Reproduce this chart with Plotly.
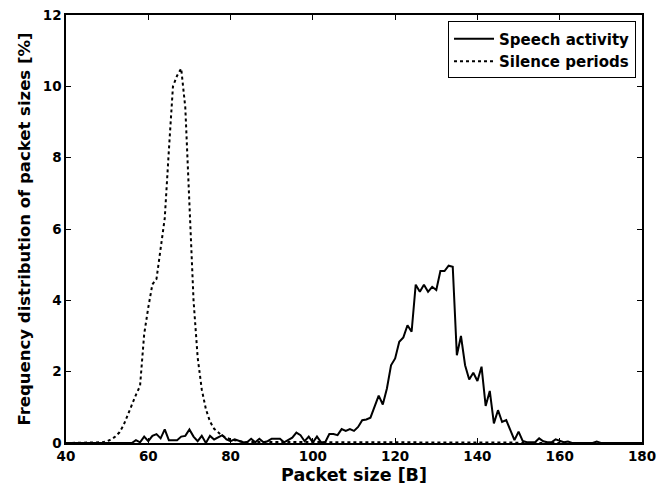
import plotly.graph_objects as go

# Packet size bins [B]
packet_size = list(range(40, 181))

# Frequency distribution [%] - speech activity (40..180)
speech = (
    [0.0] * 16 +                                   # 40-55
    [0.0, 0.08, 0.02, 0.18, 0.05, 0.20, 0.25, 0.13, 0.38, 0.08,   # 56-65
     0.08, 0.08, 0.18, 0.20, 0.38, 0.18, 0.05, 0.20, 0.00, 0.20,  # 66-75
     0.10, 0.15, 0.22, 0.10, 0.05, 0.10, 0.05, 0.02, 0.02, 0.12,  # 76-85
     0.02, 0.12, 0.02, 0.05, 0.12, 0.12, 0.12, 0.02, 0.08, 0.15,  # 86-95
     0.29, 0.22, 0.05, 0.18, 0.02, 0.18, 0.02, 0.02, 0.25, 0.25,  # 96-105
     0.22, 0.39, 0.34, 0.39, 0.34, 0.45, 0.64, 0.66, 0.71, 1.02,  # 106-115
     1.33, 1.08, 1.53, 2.18, 2.37, 2.84, 2.96, 3.30, 3.12, 4.44,  # 116-125
     4.24, 4.44, 4.24, 4.38, 4.29, 4.82, 4.82, 4.97, 4.94, 2.46,  # 126-135
     3.00, 2.18, 1.78, 1.97, 1.74, 2.14, 1.04, 1.46, 0.55, 0.92,  # 136-145
     0.59, 0.64, 0.36, 0.08, 0.32, 0.06, 0.02, 0.02, 0.02, 0.13,  # 146-155
     0.05, 0.02, 0.02, 0.10, 0.05, 0.02, 0.04, 0.00, 0.00, 0.00,  # 156-165
     0.00, 0.00, 0.00, 0.04, 0.00, 0.00, 0.00, 0.00, 0.00, 0.00,  # 166-175
     0.00, 0.00, 0.00, 0.00, 0.00]                                # 176-180
)

# Frequency distribution [%] - silence periods (40..180)
silence = (
    [0.0] * 9 +                                    # 40-48
    [0.02, 0.05, 0.10, 0.18, 0.30, 0.50, 0.80, 1.10, 1.35, 1.60,  # 49-58
     3.05, 3.80, 4.45, 4.60, 5.40, 6.30, 8.20, 10.00, 10.30, 10.50,  # 59-68
     9.40, 6.80, 4.00, 2.40, 1.50, 0.95, 0.60, 0.40, 0.30, 0.20,  # 69-78
     0.15, 0.10, 0.08, 0.05] +                     # 79-82
    [0.03] * 13 +                                  # 83-95
    [0.02] * 15 +                                  # 96-110
    [0.01] * 40 +                                  # 111-150
    [0.0] * 30                                     # 151-180
)

assert len(speech) == len(packet_size) == len(silence)

x_ticks = [40, 60, 80, 100, 120, 140, 160, 180]
y_ticks = [0, 2, 4, 6, 8, 10, 12]

FONT = "DejaVu Sans"

fig = go.Figure()
fig.add_trace(go.Scatter(
    x=packet_size, y=speech, mode="lines", name="<b>Speech activity</b>",
    line=dict(color="black", width=2)))
fig.add_trace(go.Scatter(
    x=packet_size, y=silence, mode="lines", name="<b>Silence periods</b>",
    line=dict(color="black", width=2, dash="dot")))

axis_common = dict(
    showline=True, linecolor="black", linewidth=1.5, mirror="ticks",
    ticks="inside", ticklen=5, tickwidth=1, tickcolor="black",
    showgrid=False, zeroline=False, ticklabeloverflow="allow",
    tickfont=dict(family=FONT, size=13.5, color="black"),
)

fig.update_xaxes(range=[40, 180], tickmode="array", tickvals=x_ticks,
                 ticktext=[f"<b>{v}</b>" for v in x_ticks],
                 title=dict(text="<b>Packet size [B]</b>", standoff=6,
                            font=dict(family=FONT, size=17.5, color="black")),
                 **axis_common)
fig.update_yaxes(range=[0, 12], tickmode="array", tickvals=y_ticks,
                 ticktext=[f"<b>{v}</b>" for v in y_ticks],
                 title=dict(text="<b>Frequency distribution of packet sizes [%]</b>", standoff=8,
                            font=dict(family=FONT, size=16.5, color="black")),
                 **axis_common)

# page body has an 8px default margin; size the figure to compensate
fig.update_layout(
    width=661, height=481,
    margin=dict(l=58, r=27, t=7, b=46, autoexpand=False),
    paper_bgcolor="white", plot_bgcolor="white",
    showlegend=True,
    legend=dict(x=0.9896, y=0.985, xanchor="right", yanchor="top",
                bgcolor="white", bordercolor="black", borderwidth=1,
                font=dict(family=FONT, size=15, color="black"),
                itemwidth=40, tracegroupgap=0),
)

fig.write_html("out.html")
